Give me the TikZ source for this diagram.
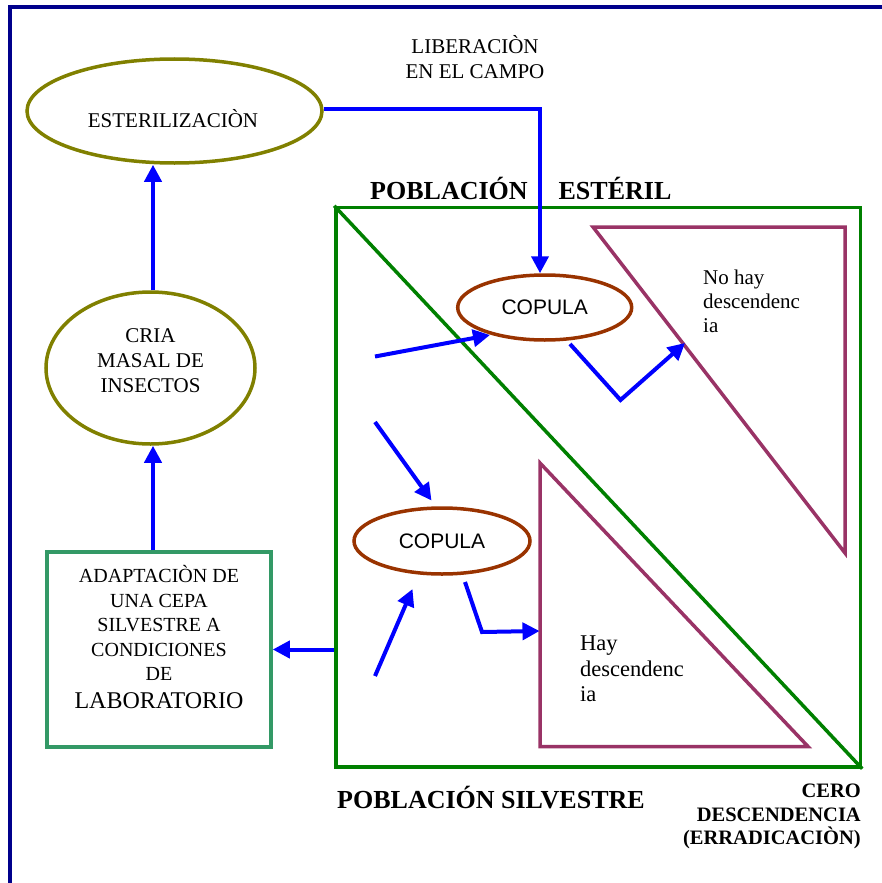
\documentclass[tikz,border=0pt]{standalone}
\usepackage{fontspec}
\setmainfont{Liberation Serif}
\setsansfont{Liberation Sans}
\usetikzlibrary{shapes.geometric,arrows.meta,calc}
\definecolor{framenavy}{RGB}{0,0,140}
\definecolor{arrblue}{RGB}{0,0,255}
\definecolor{olivec}{RGB}{128,128,0}
\definecolor{brownc}{RGB}{153,51,0}
\definecolor{purplec}{RGB}{153,51,102}
\definecolor{greenc}{RGB}{0,128,0}
\definecolor{seagreenc}{RGB}{51,153,102}
\begin{document}
\begin{tikzpicture}[x=1pt,y=-1pt,
  arr/.style={draw=arrblue, line width=4pt, -{Triangle[length=17pt,width=17pt]}},
  oliveell/.style={ellipse, draw=olivec, line width=3.5pt, inner sep=0pt},
  copell/.style={ellipse, draw=brownc, line width=3.5pt, inner sep=0pt, font=\sffamily\fontsize{21}{25}\selectfont},
  txt/.style={inner sep=0pt, align=center, font=\fontsize{21}{25}\selectfont},
  boldtxt/.style={inner sep=0pt, font=\bfseries\fontsize{26}{30}\selectfont},
  tri/.style={draw=purplec, line width=3.5pt}
]
\useasboundingbox (0,0) rectangle (882,883);
% outer frame
\draw[framenavy, line width=4pt] (9.5,883) -- (9.5,7) -- (882,7);

% big population rectangle
\node[draw=greenc, line width=3.5pt, minimum width=524.5, minimum height=559.5, inner sep=0pt] (pop) at (598.25,487.25) {};
\draw[greenc, line width=3.5pt] (pop.north west) -- (pop.south east);

% purple triangles
\draw[tri] (593,227) -- (845,227) -- (845,553) -- cycle;
\draw[tri] (540,463) -- (540,746.5) -- (808,746.5) -- cycle;

% left column
\node[oliveell, minimum width=295, minimum height=104] (ester) at (174.5,111) {};
\node[txt, anchor=base] (esterT) at (173,127) {ESTERILIZACIÒN};
\node[oliveell, minimum width=209, minimum height=152] (cria) at (150.5,368) {};
\node[txt, anchor=north] (criaT) at (150.5,328.2) {CRIA\\MASAL DE\\INSECTOS};
\node[draw=seagreenc, line width=3.5pt, minimum width=224, minimum height=195, inner sep=0pt] (adapt) at (159,649.5) {};
\node[txt, font=\fontsize{20}{24.5}\selectfont, anchor=north] (adaptT) at (159,565.2) {ADAPTACIÒN DE\\UNA CEPA\\SILVESTRE A\\CONDICIONES\\DE};
\node[txt, font=\fontsize{24}{28}\selectfont, anchor=base] (labT) at (159,708) {LABORATORIO};

% top label
\node[txt, anchor=north] (libT) at (475,35.6) {LIBERACIÒN\\EN EL CAMPO};

% copula ellipses
\node[copell, minimum width=174, minimum height=65] (copU) at (544.7,307.5) {COPULA};
\node[copell, minimum width=176, minimum height=66] (copL) at (442,541) {COPULA};

% triangle labels
\node[txt, align=left, anchor=north west, font=\fontsize{21}{24}\selectfont] (noT) at (703,269.5) {No hay\\descendenc\\ia};
\node[txt, align=left, anchor=north west, font=\fontsize{22.5}{25.5}\selectfont] (hayT) at (580,635.8) {Hay\\descendenc\\ia};

% titles
\node[boldtxt, anchor=base west] (estT) at (370,199) {POBLACIÓN\hspace{31pt}ESTÉRIL};
\node[boldtxt, anchor=base west] (silT) at (337,808) {POBLACIÓN SILVESTRE};
\node[inner sep=0pt, align=right, font=\bfseries\fontsize{20.5}{23.5}\selectfont, anchor=north east] (ceroT) at (861,784) {CERO\\DESCENDENCIA\\(ERRADICACIÒN)};

% connectors left column
\coordinate (vx) at (153,0);
\draw[arr] (vx |- adapt.north) -- (vx |- cria.south);
\draw[arr] (vx |- cria.north) -- (vx |- ester.south);
\draw[arr] (pop.west |- adapt.east) -- (adapt.east);

% liberation
\coordinate (lib) at (540,109);
\draw[arr] (ester.east |- lib) -- (lib) -- (lib |- copU.north);

% arrows inside population
\coordinate (a1s) at (375,356.5);
\coordinate (a1e) at (490,335);
\draw[arr] (a1s) -- (a1e);
\coordinate (a2s) at (570,344);
\coordinate (a2m) at (620.5,400);
\coordinate (a2e) at (685,343);
\draw[arr] (a2s) -- (a2m) -- (a2e);
\coordinate (a3s) at (375,422);
\coordinate (a3e) at (431.5,500.5);
\draw[arr] (a3s) -- (a3e);
\coordinate (a4s) at (375,676);
\coordinate (a4e) at (412.5,589);
\draw[arr] (a4s) -- (a4e);
\coordinate (a5s) at (465,582);
\coordinate (a5m) at (482,632);
\coordinate (a5e) at (539.5,631);
\draw[arr] (a5s) -- (a5m) -- (a5e);
\end{tikzpicture}
\end{document}
